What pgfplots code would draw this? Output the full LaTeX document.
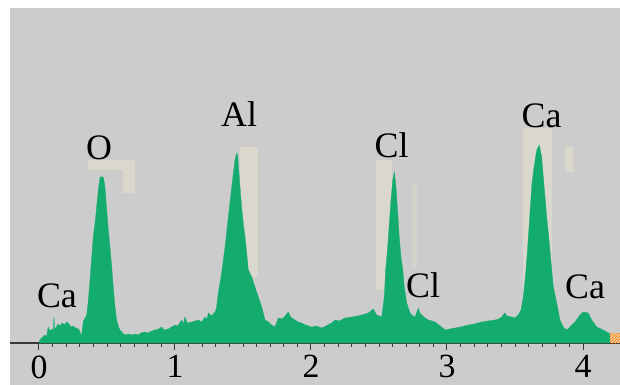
\documentclass[border=0pt]{standalone}
\usepackage{fontspec}
\setmainfont{Liberation Serif}
\usepackage{pgfplots}
\pgfplotsset{compat=1.18}
\usetikzlibrary{patterns}
\definecolor{bggray}{RGB}{204,204,204}
\definecolor{specgreen}{RGB}{20,172,110}
\definecolor{ghost}{RGB}{218,215,205}
\definecolor{axisdark}{RGB}{55,55,55}
\pgfplotstableread{
E h
0.000 0
0.005 3
0.020 5
0.044 8
0.055 6
0.068 16
0.080 12
0.093 14
0.105 13
0.110 26
0.115 14
0.123 15
0.140 19
0.154 17
0.170 20
0.191 18
0.200 21
0.215 20
0.235 16
0.252 17
0.270 15
0.289 14
0.300 12
0.307 8
0.316 10
0.326 22
0.340 25
0.351 28
0.363 43
0.375 63
0.388 86
0.399 106
0.412 120
0.424 136
0.436 153
0.449 166
0.473 166
0.485 156
0.498 133
0.510 113
0.522 96
0.535 76
0.546 56
0.559 36
0.571 23
0.585 16
0.596 13
0.615 10
0.632 8
0.660 9
0.690 8
0.706 9
0.730 8
0.750 10
0.779 11
0.800 10
0.830 12
0.853 13
0.880 14
0.902 16
0.920 13
0.951 14
0.975 16
1.000 18
1.020 17
1.049 23
1.060 19
1.074 26
1.090 20
1.123 21
1.150 22
1.171 23
1.195 21
1.221 26
1.235 24
1.245 30
1.270 27
1.294 31
1.305 35
1.318 50
1.343 70
1.368 96
1.392 126
1.417 156
1.441 183
1.454 190
1.461 188
1.478 156
1.490 136
1.502 120
1.515 106
1.527 90
1.539 73
1.564 66
1.588 56
1.613 46
1.638 36
1.662 23
1.686 21
1.710 18
1.735 16
1.760 25
1.790 24
1.815 28
1.833 31
1.850 26
1.882 23
1.905 21
1.932 20
1.960 18
2.005 16
2.040 17
2.079 15
2.110 17
2.152 20
2.176 23
2.210 22
2.250 25
2.299 26
2.340 27
2.373 28
2.400 29
2.421 30
2.440 32
2.458 34
2.470 31
2.483 28
2.520 26
2.539 46
2.549 73
2.564 96
2.574 116
2.588 143
2.601 163
2.613 171
2.625 156
2.638 130
2.649 106
2.662 86
2.675 73
2.686 56
2.704 40
2.728 30
2.750 27
2.765 26
2.789 35
2.800 30
2.814 28
2.840 25
2.863 23
2.890 22
2.912 21
2.940 18
2.961 16
2.985 13
3.020 14
3.059 15
3.100 16
3.157 18
3.200 19
3.255 21
3.300 22
3.353 23
3.380 24
3.402 26
3.426 30
3.440 27
3.476 26
3.500 25
3.524 28
3.544 33
3.561 46
3.579 70
3.593 95
3.610 130
3.625 160
3.640 176
3.660 193
3.679 198
3.696 186
3.708 166
3.721 146
3.733 126
3.745 110
3.757 93
3.770 73
3.782 56
3.807 40
3.831 23
3.855 16
3.880 13
3.904 16
3.941 21
3.978 28
4.002 31
4.039 30
4.064 23
4.101 16
4.149 13
4.186 10
4.199 10
4.199 0
}\spectrum
\begin{document}
\begin{tikzpicture}
\path[use as bounding box] (-10bp,-42bp) rectangle (610bp,343bp);
\fill[bggray] (0bp,-42bp) rectangle (610bp,335bp);
\begin{axis}[
  at={(0,0)}, anchor=south west,
  scale only axis, width=610bp, height=335bp,
  xmin=-0.2132, xmax=4.2721, ymin=0, ymax=335,
  axis x line*=bottom, axis y line=none,
  x axis line style={axisdark, line width=2bp},
  xtick={0,1,2,3,4}, minor x tick num=9,
  tick align=outside, major tick length=7bp, minor tick length=4bp,
  xtick style={axisdark, line width=1bp},
  minor x tick style={axisdark, line width=0.8bp},
  /pgf/number format/assume math mode=true,
  xticklabel style={font=\fontsize{34}{34}\selectfont, yshift=-2bp},
  clip=false,
]
% faint region markers behind peaks
\addplot[fill=ghost, draw=none] coordinates {(0.360,173) (0.360,183) (0.706,183) (0.706,173)} -- cycle;
\addplot[fill=ghost, draw=none] coordinates {(0.618,150) (0.618,183) (0.706,183) (0.706,150)} -- cycle;
\addplot[fill=ghost, draw=none] coordinates {(1.478,66) (1.478,196) (1.610,196) (1.610,66)} -- cycle;
\addplot[fill=ghost, draw=none] coordinates {(2.478,53) (2.478,183) (2.596,183) (2.596,53)} -- cycle;
\addplot[fill=ghost, draw=none, opacity=0.6] coordinates {(2.743,73) (2.743,160) (2.779,160) (2.779,73)} -- cycle;
\addplot[fill=ghost, draw=none] coordinates {(3.559,43) (3.559,215) (3.772,215) (3.772,43)} -- cycle;
\addplot[fill=ghost, draw=none] coordinates {(3.868,171) (3.868,196) (3.926,196) (3.926,171)} -- cycle;
% spectrum
\addplot[fill=specgreen, draw=specgreen, line width=0.3bp] table[x=E, y=h] {\spectrum} -- cycle;
% out-of-range marker
\addplot[fill=orange!45, draw=none, postaction={pattern=north east lines, pattern color=orange!85!black}] coordinates {(4.199,0) (4.199,10) (4.272,10) (4.272,0)} -- cycle;
% element labels
\begin{scope}[every node/.style={anchor=base, inner sep=0pt, font=\fontsize{36}{36}\selectfont}]
\node at (axis cs:0.132,36) {Ca};
\node at (axis cs:0.441,183) {O};
\node at (axis cs:1.471,216) {Al};
\node at (axis cs:2.593,185) {Cl};
\node at (axis cs:2.824,46) {Cl};
\node at (axis cs:3.696,215) {Ca};
\node at (axis cs:4.015,45) {Ca};
\end{scope}
\end{axis}
\end{tikzpicture}
\end{document}
